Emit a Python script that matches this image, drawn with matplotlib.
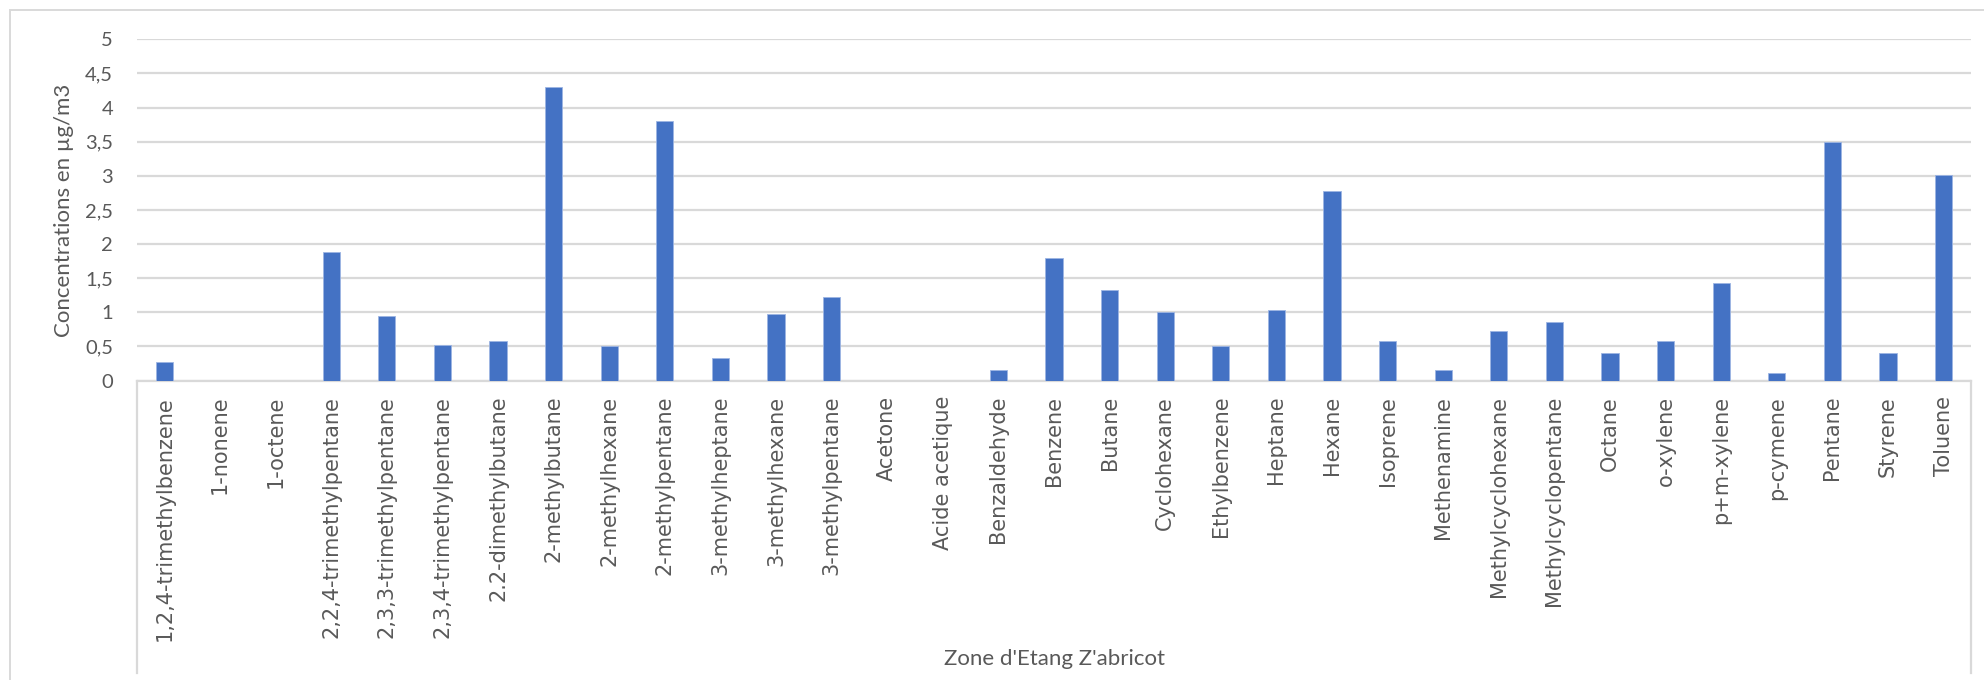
import matplotlib
matplotlib.use("Agg")
import matplotlib.pyplot as plt
from matplotlib.lines import Line2D
from matplotlib.patches import Rectangle
from matplotlib.ticker import FixedLocator, FuncFormatter

compounds = [
    "1,2,4-trimethylbenzene", "1-nonene", "1-octene", "2,2,4-trimethylpentane",
    "2,3,3-trimethylpentane", "2,3,4-trimethylpentane", "2.2-dimethylbutane",
    "2-methylbutane", "2-methylhexane", "2-methylpentane", "3-methylheptane",
    "3-methylhexane", "3-methylpentane", "Acetone", "Acide acetique",
    "Benzaldehyde", "Benzene", "Butane", "Cyclohexane", "Ethylbenzene",
    "Heptane", "Hexane", "Isoprene", "Methenamine", "Methylcyclohexane",
    "Methylcyclopentane", "Octane", "o-xylene", "p+m-xylene", "p-cymene",
    "Pentane", "Styrene", "Toluene",
]
concentrations = [
    0.27, 0.0, 0.0, 1.88,
    0.94, 0.52, 0.58,
    4.30, 0.51, 3.81, 0.33,
    0.98, 1.23, 0.0, 0.0,
    0.16, 1.79, 1.33, 1.00, 0.50,
    1.03, 2.78, 0.58, 0.16, 0.73,
    0.86, 0.41, 0.58, 1.43, 0.11,
    3.50, 0.41, 3.01,
]
y_ticks = [0, 0.5, 1, 1.5, 2, 2.5, 3, 3.5, 4, 4.5, 5]
zone_label = "Zone d'Etang Z'abricot"
y_title = "Concentrations en µg/m3"

W, H = 1984, 680
TEXT = "#595959"
GRID = "#D9D9D9"
BAR = "#4472C4"

fig = plt.figure(figsize=(W / 100, H / 100), dpi=100)
fig.patch.set_facecolor("white")

left_px, right_px, top_px, bottom_px = 136.7, 1971.3, 39.3, 380.5
ax = fig.add_axes([left_px / W, 1 - bottom_px / H,
                   (right_px - left_px) / W, (bottom_px - top_px) / H])

x = list(range(len(compounds)))
ax.bar(x, concentrations, width=0.31, color=BAR, edgecolor="#9DB5E3",
       linewidth=0.6, zorder=3)

ax.set_xlim(-0.5, len(compounds) - 0.5)
ax.set_ylim(0, 5)
ax.yaxis.set_major_locator(FixedLocator(y_ticks))
ax.yaxis.set_major_formatter(FuncFormatter(lambda v, p: f"{v:g}".replace(".", ",")))
ax.grid(axis="y", color=GRID, linewidth=1.6, zorder=0)
ax.set_axisbelow(True)

for s in ("top", "right", "left"):
    ax.spines[s].set_visible(False)
ax.spines["bottom"].set_color(GRID)
ax.spines["bottom"].set_linewidth(1.6)

ax.set_xticks(x)
ax.set_xticklabels(compounds, rotation=90, fontsize=15, color=TEXT,
                   family="DejaVu Sans")
ax.tick_params(axis="x", length=0, pad=11)
ax.tick_params(axis="y", length=0, pad=17, labelsize=14.5, labelcolor=TEXT)
for lbl in ax.get_yticklabels():
    lbl.set_family("Lato")

ax.set_ylabel(y_title, fontsize=16, color=TEXT, family="Lato", labelpad=8)

# box around the category labels
for xp in (left_px, right_px):
    fig.add_artist(Line2D([xp / W, xp / W], [1 - bottom_px / H, 1 - 673 / H],
                          color=GRID, linewidth=1.6))

fig.text((left_px + right_px) / 2 / W, 1 - 665 / H, zone_label,
         ha="center", va="baseline", fontsize=16, color=TEXT, family="Lato")

# outer chart frame
fig.add_artist(Rectangle((10 / W, -0.05), 1.05, 1 - 10 / H + 0.05,
                         transform=fig.transFigure, fill=False,
                         edgecolor=GRID, linewidth=1.4))

fig.savefig("out.png", dpi=100, facecolor="white")
